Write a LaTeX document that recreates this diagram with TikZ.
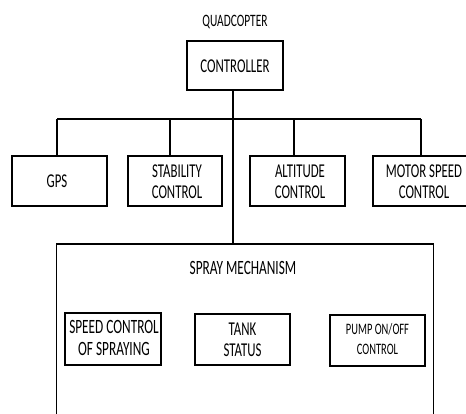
\documentclass[tikz,border=0pt]{standalone}
\usepackage{fontspec}
\setmainfont{Carlito}
\newcommand\sx[1]{\scalebox{0.95}[1.45]{#1}}
\begin{document}
\begin{tikzpicture}[x=1pt,y=-1pt,
  box/.style={draw,line width=1.6pt,minimum width=#1,minimum height=50pt,inner sep=0pt},
  box/.default=95pt,
  lbl/.style={font=\fontsize{13.5}{21}\selectfont,align=center,inner sep=0pt},
  conn/.style={line width=1.5pt}]
\useasboundingbox (0,0) rectangle (466,414);
\clip (0,0) rectangle (466,414);
\fill[white] (0,0) rectangle (466,414);
% title
\node[lbl,font=\fontsize{12}{13}\selectfont] (title) at (235,22) {\sx{QUADCOPTER}};
% controller
\node[box=96pt,minimum height=49pt] (ctrl) at (235,65.5) {};
\node[lbl] (ctrlt) at (235,66) {\sx{CONTROLLER}};
% bus
\coordinate (bl) at (57,119);
\coordinate (br) at (421,119);
% second row boxes
\node[box] (gps) at (59.5,181) {};
\node[lbl] (gpst) at (57,181) {\sx{GPS}};
\node[box=94pt] (stab) at (175,181) {};
\node[lbl] (stabt) at (177,182) {\sx{STABILITY}\\\sx{CONTROL}};
\node[box] (alt) at (297.5,181) {};
\node[lbl] (altt) at (300,182) {\sx{ALTITUDE}\\\sx{CONTROL}};
\node[box=102pt] (mot) at (424,181) {};
\node[lbl] (mott) at (424,182) {\sx{MOTOR SPEED}\\\sx{CONTROL}};
% connectors
\draw[conn] (bl) -- (br);
\draw[conn] (bl) -- (gps.north -| bl);
\draw[conn] (170,119) -- (stab.north -| 170,0);
\draw[conn] (294,119) -- (alt.north -| 294,0);
\draw[conn] (br) -- (mot.north -| br);
% spray mechanism
\node[draw,line width=1.6pt,minimum width=377pt,minimum height=200pt,inner sep=0pt] (spray) at (245,344) {};
\draw[conn] (ctrl.south -| 233,0) -- (spray.north -| 233,0);
\node[lbl,font=\fontsize{14}{15}\selectfont] (sprayt) at (243,268) {\sx{SPRAY MECHANISM}};
\node[box=96pt,minimum height=52pt] (speed) at (113,339) {};
\node[lbl,font=\fontsize{14}{22}\selectfont] (speedt) at (114,338) {\sx{SPEED CONTROL}\\\sx{OF SPRAYING}};
\node[box=95pt,minimum height=51pt] (tank) at (242.5,339.5) {};
\node[lbl] (tankt) at (242.5,340) {\sx{TANK}\\\sx{STATUS}};
\node[box=95pt,minimum height=51pt] (pump) at (377.5,340.5) {};
\node[lbl,font=\fontsize{11}{20}\selectfont] (pumpt) at (377.5,339) {\sx{PUMP ON/OFF}\\\sx{CONTROL}};
\end{tikzpicture}
\end{document}
